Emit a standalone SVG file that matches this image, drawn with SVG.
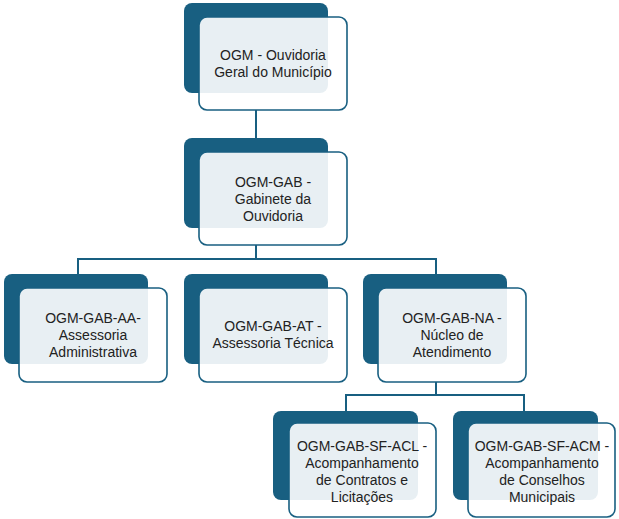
<svg xmlns="http://www.w3.org/2000/svg" width="619" height="519" viewBox="0 0 619 519">
<style>
.back{fill:#185f81}
.front{fill:#ffffff;fill-opacity:0.9;stroke:#185f81;stroke-width:1.6}
.t{font-family:"Liberation Sans",Arial,sans-serif;font-size:14px;fill:#222222;text-anchor:middle}
.c{fill:none;stroke:#185f81;stroke-width:2}
</style>
<rect width="619" height="519" fill="#ffffff"/>
<g id="connectors">
<path class="c" d="M256 110V152"/>
<path class="c" d="M256 245V259M78 274V259H436V274"/>
<path class="c" d="M436 382V395M346 411V395H524V411"/>
</g>
<g id="ogm">
<rect class="back" x="184" y="3" width="144" height="90" rx="8"/>
<rect class="front" x="199" y="17" width="148" height="93" rx="8"/>
<text class="t" x="273" y="60">OGM - Ouvidoria</text>
<text class="t" x="273" y="77">Geral do Município</text>
</g>
<g id="gab">
<rect class="back" x="184" y="138" width="144" height="90" rx="8"/>
<rect class="front" x="199" y="152" width="148" height="93" rx="8"/>
<text class="t" x="273" y="187">OGM-GAB -</text>
<text class="t" x="273" y="204">Gabinete da</text>
<text class="t" x="273" y="221">Ouvidoria</text>
</g>
<g id="aa">
<rect class="back" x="4" y="274" width="144" height="90" rx="8"/>
<rect class="front" x="19" y="288" width="148" height="94" rx="8"/>
<text class="t" x="93" y="323">OGM-GAB-AA-</text>
<text class="t" x="93" y="340">Assessoria</text>
<text class="t" x="93" y="357">Administrativa</text>
</g>
<g id="at">
<rect class="back" x="184" y="274" width="144" height="90" rx="8"/>
<rect class="front" x="199" y="288" width="148" height="94" rx="8"/>
<text class="t" x="273" y="331">OGM-GAB-AT -</text>
<text class="t" x="273" y="348">Assessoria Técnica</text>
</g>
<g id="na">
<rect class="back" x="363" y="274" width="144" height="90" rx="8"/>
<rect class="front" x="378" y="288" width="148" height="94" rx="8"/>
<text class="t" x="452" y="323">OGM-GAB-NA -</text>
<text class="t" x="452" y="340">Núcleo de</text>
<text class="t" x="452" y="357">Atendimento</text>
</g>
<g id="acl">
<rect class="back" x="273" y="411" width="145" height="89" rx="8"/>
<rect class="front" x="289" y="423" width="147" height="94" rx="8"/>
<text class="t" x="362" y="451">OGM-GAB-SF-ACL -</text>
<text class="t" x="362" y="468">Acompanhamento</text>
<text class="t" x="362" y="485">de Contratos e</text>
<text class="t" x="362" y="502">Licitações</text>
</g>
<g id="acm">
<rect class="back" x="453" y="411" width="145" height="89" rx="8"/>
<rect class="front" x="468" y="423" width="147" height="94" rx="8"/>
<text class="t" x="542" y="451">OGM-GAB-SF-ACM -</text>
<text class="t" x="542" y="468">Acompanhamento</text>
<text class="t" x="542" y="485">de Conselhos</text>
<text class="t" x="542" y="502">Municipais</text>
</g>
</svg>
